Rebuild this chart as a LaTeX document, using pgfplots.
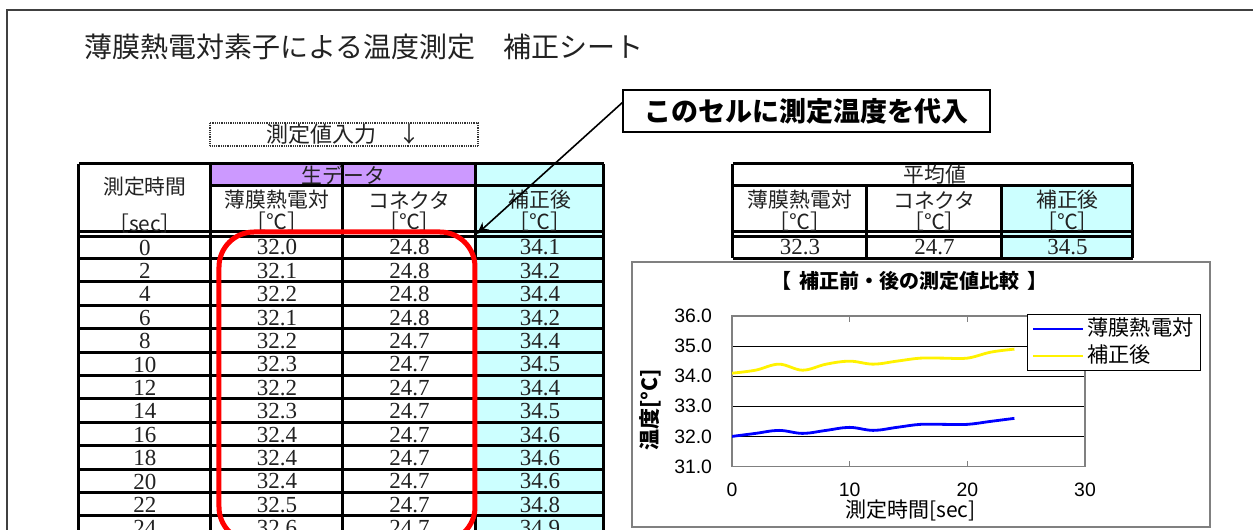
\documentclass[border=0pt]{standalone}
\usepackage{fontspec}
\setmainfont{Liberation Serif}
\newfontfamily\jp{Noto Sans CJK JP}
\newfontfamily\lsans{Liberation Sans}
\usepackage{pgfplots}
\pgfplotsset{compat=1.18}
\usetikzlibrary{arrows.meta}
\definecolor{lav}{HTML}{CC99FF}
\definecolor{lcyan}{HTML}{CCFFFF}
\definecolor{tx}{HTML}{222222}
\tikzset{
  hd/.style={font=\fontsize{10.4bp}{12bp}\selectfont\jp, text=tx, inner sep=0pt},
  num/.style={font=\fontsize{11.5bp}{13bp}\selectfont, text=tx, inner sep=0pt},
  tl/.style={line width=1.5bp, black},
}
\begin{document}
\begin{tikzpicture}
\useasboundingbox (0,0) rectangle (626.5bp,-265bp);
\fill[white] (0,0) rectangle (626.5bp,-265bp);
\begin{scope}[x=0.5bp,y=-0.5bp]
  % sheet frame
  \draw[black!75, line width=1bp] (7.5,545) -- (7.5,10.5) -- (1260,10.5);
  % title
  \node[anchor=west, inner sep=0, text=tx, font=\fontsize{14bp}{16bp}\selectfont\jp] at (84,47) {薄膜熱電対素子による温度測定　補正シート};
  % dotted input box
  \draw[black!80, line width=1.1bp, dash pattern=on 0.45bp off 0.45bp] (210,123) rectangle (478,146);
  \node[font=\fontsize{11bp}{13bp}\selectfont\jp, text=tx, inner sep=0] at (344,134.5) {測定値入力　↓};
  % ===== left table =====
  \fill[lav] (211,164) rectangle (476,186);
  \fill[lcyan] (476,164) rectangle (604,545);
  \draw[tl] (79,164) -- (604,164);
  \draw[tl] (211,186) -- (604,186);
  \draw[line width=1.2bp] (79,231.5) -- (604,231.5);
  \draw[line width=1.2bp] (79,236.5) -- (604,236.5);
  \foreach \j in {0,...,11} {\draw[tl] (79,{258.5+23.4*\j}) -- (604,{258.5+23.4*\j});}
  \foreach \x in {79,211,343,476,604} {\draw[tl] (\x,164) -- (\x,545);}
  \node[hd] at (145,187) {測定時間};
  \node[hd] at (145,224) {［sec］};
  \node[hd] at (343.5,175) {生データ};
  \node[hd] at (277,200) {薄膜熱電対};
  \node[hd] at (277,222) {［℃］};
  \node[hd] at (409.5,200) {コネクタ};
  \node[hd] at (409.5,222) {［℃］};
  \node[hd] at (540,200) {補正後};
  \node[hd] at (540,222) {［℃］};
  \foreach \t/\a/\b/\c [count=\n from 0] in {0/32.0/24.8/34.1, 2/32.1/24.8/34.2, 4/32.2/24.8/34.4, 6/32.1/24.8/34.2, 8/32.2/24.7/34.4, 10/32.3/24.7/34.5, 12/32.2/24.7/34.4, 14/32.3/24.7/34.5, 16/32.4/24.7/34.6, 18/32.4/24.7/34.6, 20/32.4/24.7/34.6, 22/32.5/24.7/34.8, 24/32.6/24.7/34.9} {
    \pgfmathsetmacro\yy{247.5+23.4*\n}
    \node[num] at (145,\yy) {\t};
    \node[num] at (277,\yy) {\a};
    \node[num] at (409.5,\yy) {\b};
    \node[num] at (540,\yy) {\c};
  }
  % red rounded rectangle
  \draw[red, line width=2.5bp, rounded corners=17.5bp] (219,232) rectangle (475,542);
  % ===== right table =====
  \fill[lcyan] (1002,186) rectangle (1133,258.5);
  \draw[tl] (733,164) -- (1133,164);
  \draw[tl] (733,186) -- (1133,186);
  \draw[line width=1.2bp] (733,231.5) -- (1133,231.5);
  \draw[line width=1.2bp] (733,236.5) -- (1133,236.5);
  \draw[tl] (733,258.5) -- (1133,258.5);
  \draw[tl] (733,164) -- (733,258.5);
  \draw[tl] (1133,164) -- (1133,258.5);
  \draw[tl] (867,186) -- (867,258.5);
  \draw[tl] (1002,186) -- (1002,258.5);
  \node[hd] at (935,175) {平均値};
  \node[hd] at (800,200) {薄膜熱電対};
  \node[hd] at (800,222) {［℃］};
  \node[hd] at (934.5,200) {コネクタ};
  \node[hd] at (934.5,222) {［℃］};
  \node[hd] at (1067.5,200) {補正後};
  \node[hd] at (1067.5,222) {［℃］};
  \node[num] at (800,247.5) {32.3};
  \node[num] at (934.5,247.5) {24.7};
  \node[num] at (1067.5,247.5) {34.5};
  % callout
  \draw[line width=0.8bp, -{Stealth[length=6bp,width=5bp]}] (623,102) -- (477,234);
  \draw[line width=1bp, fill=white] (623,90) rectangle (990,132);
  \node[font=\fontsize{13.5bp}{15bp}\selectfont\jp\bfseries, inner sep=0] at (806.5,111) {このセルに測定温度を代入};
  % chart frame
  \draw[black!50, line width=1bp, fill=white] (632,262) rectangle (1210,527);
\end{scope}
\begin{axis}[
  at={(366bp,-233.25bp)}, anchor=south west,
  scale only axis, width=176.5bp, height=75.25bp,
  xmin=0, xmax=30, ymin=31, ymax=36,
  xtick={0,10,20,30}, ytick={31,32,33,34,35,36},
  axis line style={black!50, line width=0.8bp},
  ymajorgrids, major grid style={black, line width=0.5bp},
  tick align=inside, major tick length=3bp,
  ytick style={draw=none}, xtick style={black!50, line width=0.8bp},
  /pgf/number format/assume math mode=true,
  ticklabel style={font=\fontsize{9.7bp}{11bp}\selectfont\lsans, inner sep=0pt},
  y tick label style={/pgf/number format/fixed, /pgf/number format/fixed zerofill, /pgf/number format/precision=1, anchor=east, xshift=-9.8bp},
  x tick label style={anchor=center, yshift=-11.75bp},
  xlabel={測定時間[sec]},
  xlabel style={font=\fontsize{10.5bp}{12bp}\selectfont\jp, at={(axis description cs:0.505,-0.29)}, anchor=center, inner sep=0pt},
  ylabel={温度[°C]},
  ylabel style={font=\fontsize{10.5bp}{12bp}\selectfont\jp\bfseries, at={(axis description cs:-0.2323,0.3754)}, anchor=center, inner sep=0pt},
  title={【\hspace{0.4em}補正前・後の測定値比較\hspace{0.4em}】},
  title style={font=\fontsize{10bp}{12bp}\selectfont\jp\bfseries, at={(axis description cs:0.5014,1.153)}, anchor=center, inner sep=0pt},
  legend style={at={(0.836,1.013)}, anchor=north west, draw=black, line width=0.5bp, fill=white,
    font=\fontsize{10.6bp}{12bp}\selectfont\jp, inner xsep=2bp, inner ysep=0.5bp, row sep=0bp,
    nodes={text height=8.5bp, text depth=2bp, inner sep=1.5bp}},
  legend cell align=left,
  legend image code/.code={\draw[#1] (0bp,0bp) -- (25bp,0bp);},
]
\addplot[blue, line width=1.4bp, smooth, tension=0.6] coordinates {
 (0,32.0) (2,32.1) (4,32.2) (6,32.1) (8,32.2) (10,32.3) (12,32.2) (14,32.3) (16,32.4) (18,32.4) (20,32.4) (22,32.5) (24,32.6)};
\addlegendentry{薄膜熱電対}
\addplot[yellow, line width=1.4bp, smooth, tension=0.6] coordinates {
 (0,34.1) (2,34.2) (4,34.4) (6,34.2) (8,34.4) (10,34.5) (12,34.4) (14,34.5) (16,34.6) (18,34.6) (20,34.6) (22,34.8) (24,34.9)};
\addlegendentry{補正後}
\end{axis}
\end{tikzpicture}
\end{document}
